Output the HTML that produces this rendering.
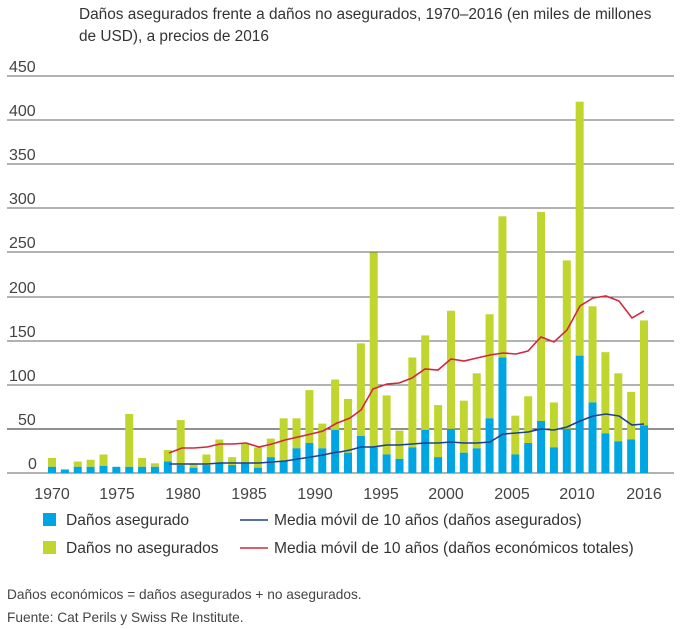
<!DOCTYPE html>
<html><head><meta charset="utf-8"><style>
html,body{margin:0;padding:0;background:#fff;}
svg{display:block;font-family:"Liberation Sans",sans-serif;}
</style></head><body>
<svg width="680" height="629" viewBox="0 0 680 629" xmlns="http://www.w3.org/2000/svg">
<g fill="#333" font-size="15.4">
<text x="79" y="19">Daños asegurados frente a daños no asegurados, 1970–2016 (en miles de millones</text>
<text x="79" y="41">de USD), a precios de 2016</text>
</g>
<g stroke="#666" stroke-width="1">
<line x1="7" x2="674" y1="76" y2="76"/><line x1="7" x2="674" y1="120" y2="120"/>
<line x1="7" x2="674" y1="164" y2="164"/><line x1="7" x2="674" y1="208" y2="208"/>
<line x1="7" x2="674" y1="252" y2="252"/><line x1="7" x2="674" y1="297" y2="297"/>
<line x1="7" x2="674" y1="341" y2="341"/><line x1="7" x2="674" y1="385" y2="385"/>
<line x1="7" x2="674" y1="429" y2="429" stroke="#222"/><line x1="7" x2="674" y1="473" y2="473"/>
</g>
<g fill="#444" font-size="16">
<text x="9" y="72">450</text><text x="9" y="116">400</text><text x="9" y="160">350</text>
<text x="9" y="204">300</text><text x="9" y="248">250</text><text x="9" y="293">200</text>
<text x="9" y="337">150</text><text x="9" y="381">100</text><text x="18" y="425">50</text>
<text x="28" y="469">0</text>
</g>
<g id="bars"></g>
<polyline fill="none" stroke="#1f3f8f" stroke-width="1.6" points="169,464 182,464 194,464 207,464 220,463 233,463 246,463 259,463 272,462 285,461 298,459 311,457 323,455 337,452 340,452 350,450 361,447 373,447 387,445 399,445 412,444 425,443 438,443 451,442 464,443 477,443 490,442 503,434 516,433 528,432 541,429 554,430 567,427 580,421 593,416 606,414 619,416 632,425 644,424"/>
<polyline fill="none" stroke="#d2283c" stroke-width="1.6" points="169,453 182,448 194,448 207,447 220,444 233,444 246,443 259,447 272,444 285,440 298,437 311,434 323,431 337,423 340,422 350,418 361,410 373,389 387,384 399,383 412,378 425,369 438,370 451,359 464,361 477,358 490,355 503,353 516,354 528,351 541,337 554,342 567,330 580,306 593,298 606,296 619,301 632,318 644,311"/>
<rect x="43" y="513" width="13" height="13" fill="#00a6e2"/>
<rect x="43" y="541" width="13" height="13" fill="#c1d52f"/>
<line x1="240" x2="268" y1="520" y2="520" stroke="#1f3f8f" stroke-width="1.6"/>
<line x1="240" x2="268" y1="548" y2="548" stroke="#d2283c" stroke-width="1.6"/>
<g fill="#333" font-size="15.6">
<text x="66" y="525">Daños asegurado</text>
<text x="66" y="553">Daños no asegurados</text>
<text x="274" y="525">Media móvil de 10 años (daños asegurados)</text>
<text x="274" y="553">Media móvil de 10 años (daños económicos totales)</text>
</g>
<g fill="#444" font-size="13.7">
<text x="7" y="599">Daños económicos = daños asegurados + no asegurados.</text>
<text x="7" y="622">Fuente: Cat Perils y Swiss Re Institute.</text>
</g>
<g fill="#444" font-size="16" text-anchor="middle">
<text x="52" y="499">1970</text><text x="117" y="499">1975</text><text x="183" y="499">1980</text>
<text x="249" y="499">1985</text><text x="315" y="499">1990</text><text x="381" y="499">1995</text>
<text x="446" y="499">2000</text><text x="512" y="499">2005</text><text x="577" y="499">2010</text>
<text x="644" y="499">2016</text>
</g>
</svg>
<script>
var T=[17,4,13,15,21,7,67,17,11,26,60,11,21,38,18,33,29,39,62,62,94,56,106,84,147,250,88,48,131,156,77,184,82,113,180,291,65,87,296,80,241,421,189,137,113,92,173];
var I=[7,4,7,7,8,7,7,7,7,13,9,6,9,11,9,11,6,18,14,28,34,28,49,23,42,29,21,16,29,49,18,50,23,28,62,131,21,34,59,29,50,133,80,45,36,38,54];
var s='';
for(var i=0;i<47;i++){var cx=52+i*12.87,k=0.882;var yt=473-T[i]*k,yi=473-I[i]*k;
s+='<rect x="'+(cx-4)+'" y="'+yt+'" width="8" height="'+(yi-yt)+'" fill="#c1d52f"/>';
s+='<rect x="'+(cx-4)+'" y="'+yi+'" width="8" height="'+(473-yi)+'" fill="#00a6e2"/>';}
document.getElementById('bars').innerHTML=s;
</script>
</body></html>
